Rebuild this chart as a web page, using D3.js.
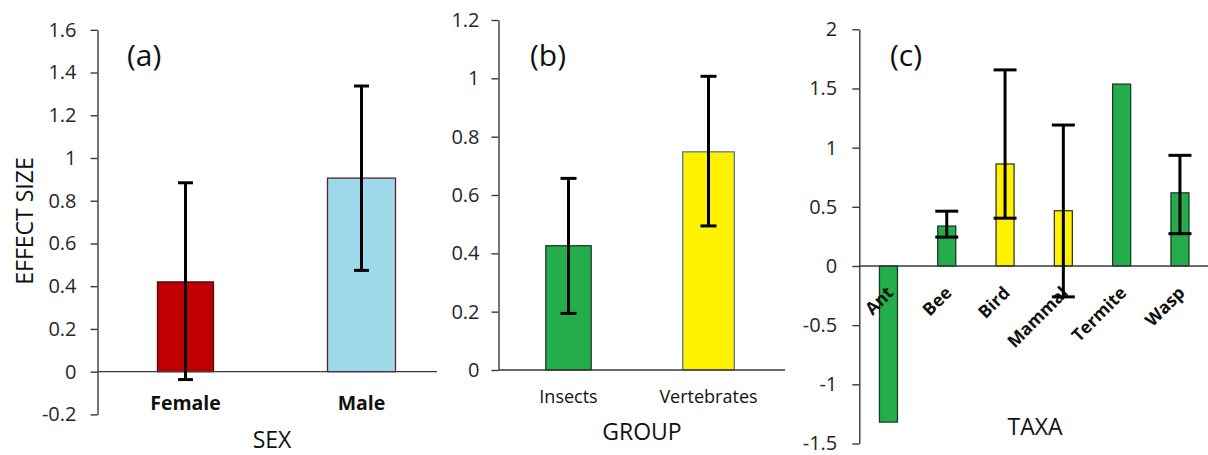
<!DOCTYPE html>
<html>
<head>
<meta charset="utf-8">
<script src="https://cdn.jsdelivr.net/npm/d3@7"></script>
<style>
  html, body { margin: 0; padding: 0; background: #fff; }
  svg { display: block; font-family: "Open Sans", "DejaVu Sans", sans-serif; }
</style>
</head>
<body>
<svg id="chart" width="1208" height="455"></svg>
<script>
// ---- (a) effect size by sex ----
const sexCats  = ["Female", "Male"];
const sexMean  = [0.420, 0.906];
const sexLo    = [-0.037, 0.474];
const sexHi    = [0.884, 1.337];
const sexTicks = [-0.2, 0, 0.2, 0.4, 0.6, 0.8, 1, 1.2, 1.4, 1.6];

// ---- (b) effect size by group ----
const groupCats  = ["Insects", "Vertebrates"];
const groupMean  = [0.426, 0.748];
const groupLo    = [0.194, 0.494];
const groupHi    = [0.657, 1.007];
const groupTicks = [0, 0.2, 0.4, 0.6, 0.8, 1, 1.2];

// ---- (c) effect size by taxon (null = no interval shown) ----
const taxaCats  = ["Ant", "Bee", "Bird", "Mammal", "Termite", "Wasp"];
const taxaMean  = [-1.319, 0.337, 0.862, 0.467, 1.537, 0.618];
const taxaLo    = [null, 0.244, 0.404, -0.261, null, 0.273];
const taxaHi    = [null, 0.463, 1.657, 1.191, null, 0.935];
const taxaTicks = [-1.5, -1, -0.5, 0, 0.5, 1, 1.5, 2];

// fill / outline colours
const sexFill    = ["#C00000", "#9DD9EA"];
const sexStroke  = ["#4a0a0a", "#5a2424"];
const groupFill  = ["#23AE4B", "#FFF200"];
const groupStroke= ["#1d3a26", "#5b7a8a"];
const taxaFill   = ["#23AE4B", "#23AE4B", "#FFF200", "#FFF200", "#23AE4B", "#23AE4B"];
const taxaStroke = ["#1d3a26", "#1d3a26", "#3a3a20", "#3a3a20", "#1d3a26", "#1d3a26"];

const svg = d3.select("#chart");
svg.append("rect").attr("width", 1208).attr("height", 455).attr("fill", "#fff");

const fmt = d => (Math.round(d * 10) / 10).toString();
const AXIS = "#3a3a3a";
const TXT = "#262626";

function panel(o) {
  const g = svg.append("g");
  const y = d3.scaleLinear().domain(o.yDomain).range(o.yRange);
  const x = d3.scaleBand().domain(o.cats).range(o.xRange);
  const cx = c => x(c) + x.bandwidth() / 2;
  const widths = o.cats.map((c, i) => Array.isArray(o.barW) ? o.barW[i] : o.barW);
  const y0 = y(0);

  // bars
  g.selectAll("rect.bar").data(o.cats).join("rect")
    .attr("class", "bar")
    .attr("x", (c, i) => cx(c) - widths[i] / 2)
    .attr("width", (c, i) => widths[i])
    .attr("y", (c, i) => Math.min(y(o.mean[i]), y0))
    .attr("height", (c, i) => Math.abs(y(o.mean[i]) - y0))
    .attr("fill", (c, i) => o.fill[i])
    .attr("stroke", (c, i) => o.stroke[i])
    .attr("stroke-width", 1.3);

  // y axis
  const ax = g.append("g")
    .attr("transform", `translate(${o.xRange[0]},0)`)
    .call(d3.axisLeft(y).tickValues(o.ticks).tickFormat(fmt)
      .tickSize(7).tickSizeOuter(0).tickPadding(o.tickPad));
  ax.attr("font-size", null).attr("font-family", null);
  ax.select(".domain").attr("stroke", AXIS).attr("stroke-width", 1.4);
  ax.selectAll(".tick line").attr("stroke", AXIS).attr("stroke-width", 1.4);
  ax.selectAll(".tick text").attr("fill", TXT)
    .style("font-size", "20px").style("font-family", '"Open Sans", sans-serif');

  // zero line
  g.append("line")
    .attr("x1", o.xRange[0]).attr("x2", o.lineEnd)
    .attr("y1", y0).attr("y2", y0)
    .attr("stroke", AXIS).attr("stroke-width", 1.4);

  // category labels
  if (o.rotate) {
    g.selectAll("text.cat").data(o.cats).join("text")
      .attr("class", "cat")
      .attr("transform", c => `translate(${cx(c) + 6},${y0 + 28}) rotate(-45)`)
      .attr("text-anchor", "end")
      .attr("fill", "#111")
      .style("font-size", "17.5px").style("font-weight", "bold")
      .text(c => c);
  } else {
    g.selectAll("text.cat").data(o.cats).join("text")
      .attr("class", "cat")
      .attr("x", c => cx(c)).attr("y", o.catY)
      .attr("text-anchor", "middle")
      .attr("fill", "#111")
      .style("font-size", o.catSize).style("font-weight", o.catWeight)
      .text(c => c);
  }

  // error bars
  o.cats.forEach((c, i) => {
    if (o.lo[i] == null) return;
    const xc = cx(c);
    const eg = g.append("g").attr("stroke", "#000").attr("stroke-width", 3);
    eg.append("line").attr("x1", xc).attr("x2", xc).attr("y1", y(o.lo[i])).attr("y2", y(o.hi[i]));
    eg.append("line").attr("x1", xc - o.cap).attr("x2", xc + o.cap).attr("y1", y(o.hi[i])).attr("y2", y(o.hi[i]));
    eg.append("line").attr("x1", xc - o.cap).attr("x2", xc + o.cap).attr("y1", y(o.lo[i])).attr("y2", y(o.lo[i]));
  });

  // panel letter
  g.append("text").attr("x", o.tag[1]).attr("y", 66)
    .attr("fill", "#111").style("font-size", "30px").text(o.tag[0]);

  // axis title
  g.append("text").attr("x", o.title[1]).attr("y", o.title[2])
    .attr("text-anchor", "middle").attr("fill", "#111")
    .style("font-size", "23px").text(o.title[0]);
  return y;
}

panel({
  cats: sexCats, mean: sexMean, lo: sexLo, hi: sexHi, ticks: sexTicks,
  yDomain: [-0.2, 1.6], yRange: [414.4, 29.8], xRange: [97.5, 449.5], lineEnd: 437,
  barW: [56, 68], fill: sexFill, stroke: sexStroke, cap: 7.5, tickPad: 14,
  catY: 410, catSize: "19.5px", catWeight: "bold",
  tag: ["(a)", 127], title: ["SEX", 272, 448]
});

panel({
  cats: groupCats, mean: groupMean, lo: groupLo, hi: groupHi, ticks: groupTicks,
  yDomain: [0, 1.2], yRange: [370, 20], xRange: [498.5, 778.5], lineEnd: 785,
  barW: [45.4, 51.6], fill: groupFill, stroke: groupStroke, cap: 8, tickPad: 12,
  catY: 403, catSize: "18px", catWeight: "normal",
  tag: ["(b)", 530], title: ["GROUP", 642, 440]
});

panel({
  cats: taxaCats, mean: taxaMean, lo: taxaLo, hi: taxaHi, ticks: taxaTicks,
  yDomain: [-1.5, 2], yRange: [443.5, 29.3], xRange: [859.3, 1209.1], lineEnd: 1208,
  barW: 18, fill: taxaFill, stroke: taxaStroke, cap: 11.5, tickPad: 15,
  rotate: true,
  tag: ["(c)", 890], title: ["TAXA", 1035, 435]
});

// shared y-axis title
svg.append("text")
  .attr("transform", "translate(32.5,221) rotate(-90)")
  .attr("text-anchor", "middle").attr("fill", "#111")
  .style("font-size", "23px").text("EFFECT SIZE");
</script>
</body>
</html>
